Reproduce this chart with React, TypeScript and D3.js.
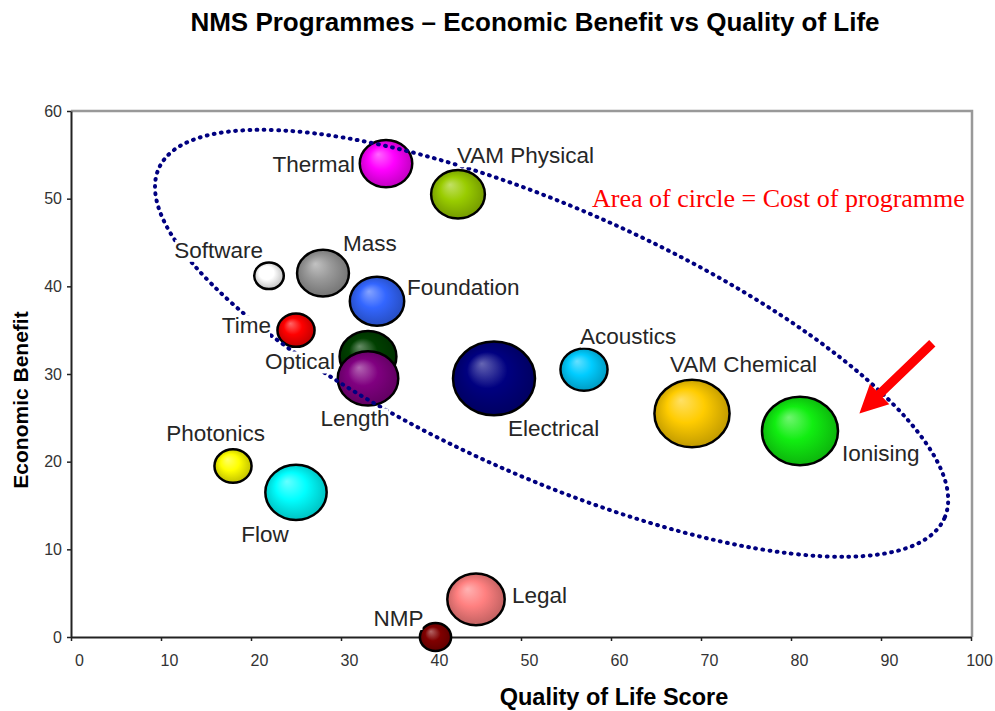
import React, { useEffect, useRef } from "react";
import * as d3 from "d3";

// programme data
const programmes = ["Thermal", "VAM Physical", "Software", "Mass", "Foundation", "Time", "Optical", "Length", "Electrical", "Acoustics", "VAM Chemical", "Ionising", "Photonics", "Flow", "Legal", "NMP"];
const qualityOfLife = [35, 43, 22, 28, 34, 25, 33, 33, 47, 57, 69, 81, 18, 25, 45, 40.5];
const economicBenefit = [54, 50.5, 41.2, 41.5, 38.3, 35, 32, 29.5, 29.5, 30.5, 25.5, 23.5, 19.5, 16.5, 4.3, 0];
const programmeCost = [41, 43, 13, 40, 44, 20.5, 48, 54.5, 100, 33, 84, 86, 20.5, 56, 49, 14.5];
const colours = ["#ff00ff", "#99cc00", "#ffffff", "#999999", "#3366ff", "#ff0000", "#004000", "#800080", "#000080", "#00ccff", "#ffcc00", "#11ee11", "#ffff00", "#00ffff", "#ff8080", "#800000"];

const xTicks = [0, 10, 20, 30, 40, 50, 60, 70, 80, 90, 100];
const yTicks = [0, 10, 20, 30, 40, 50, 60];

// annotations (data units)
const ringCentre = [53.4, 33.5];
const arrowTail = [95.7, 33.5];
const arrowTip = [87.6, 25.5];
const notePos = [57.9, 49];

// label placement relative to bubble centre, px
const labelLayout: Record<string, [number, number, string]> = {
  Thermal: [-31, 8, "end"],
  "VAM Physical": [-1, -31, "start"],
  Software: [-6, -18, "end"],
  Mass: [20, -22, "start"],
  Foundation: [30, -6, "start"],
  Time: [-25, 3, "end"],
  Optical: [-33, 13, "end"],
  Length: [-13, 48, "middle"],
  Electrical: [14, 58, "start"],
  Acoustics: [-4, -26, "start"],
  "VAM Chemical": [-22, -41, "start"],
  Ionising: [42, 30, "start"],
  Photonics: [32, -25, "end"],
  Flow: [-31, 50, "middle"],
  Legal: [36, 4, "start"],
  NMP: [-12, -11, "end"],
};

export default function App() {
  const ref = useRef<SVGSVGElement>(null);

  useEffect(() => {
    document.body.style.margin = "0";
    const svg = d3.select(ref.current);
    svg.selectAll("*").remove();

    const left = 71, right = 971, top = 111, bottom = 637;
    const x = d3.scaleLinear().domain([0, 100]).range([left, right]);
    const y = d3.scaleLinear().domain([0, 60]).range([bottom, top]);
    const r = d3.scaleSqrt().domain([0, 100]).range([0, 41]);
    const font = "'Liberation Sans', Arial, sans-serif";

    // title
    svg.append("text")
      .attr("x", 535).attr("y", 31)
      .attr("text-anchor", "middle")
      .attr("font-family", font).attr("font-weight", "bold").attr("font-size", 26)
      .text("NMS Programmes \u2013 Economic Benefit vs Quality of Life");

    // frame
    svg.append("path")
      .attr("d", `M${left},${top}H${right + 1}V${bottom}`)
      .attr("fill", "none").attr("stroke", "#999").attr("stroke-width", 2.5);

    // axes
    const xAxis = svg.append("g")
      .attr("transform", `translate(0,${bottom})`)
      .call(d3.axisBottom(x).tickValues(xTicks).tickSize(4).tickSizeOuter(0));
    xAxis.select(".domain").attr("stroke", "#222").attr("stroke-width", 2);
    xAxis.selectAll(".tick line").attr("stroke", "#222").attr("stroke-width", 1.5);
    xAxis.selectAll(".tick text")
      .attr("y", 18).attr("dx", 8)
      .attr("font-family", font).attr("font-size", 16).attr("fill", "#333");

    const yAxis = svg.append("g")
      .attr("transform", `translate(${left},0)`)
      .call(d3.axisLeft(y).tickValues(yTicks).tickSize(4).tickSizeOuter(0).tickPadding(5));
    yAxis.select(".domain").attr("stroke", "#222").attr("stroke-width", 2);
    yAxis.selectAll(".tick line").attr("stroke", "#222").attr("stroke-width", 1.5);
    yAxis.selectAll(".tick text")
      .attr("font-family", font).attr("font-size", 16).attr("fill", "#333");

    // axis titles
    svg.append("text")
      .attr("transform", "translate(28,400) rotate(-90)")
      .attr("text-anchor", "middle")
      .attr("font-family", font).attr("font-weight", "bold").attr("font-size", 21)
      .text("Economic Benefit");
    svg.append("text")
      .attr("x", 614).attr("y", 705)
      .attr("text-anchor", "middle")
      .attr("font-family", font).attr("font-weight", "bold").attr("font-size", 23.5)
      .text("Quality of Life Score");

    // 3D style gradients
    const defs = svg.append("defs");
    colours.forEach((c, i) => {
      const g = defs.append("radialGradient")
        .attr("id", `bub${i}`)
        .attr("cx", "50%").attr("cy", "50%").attr("r", "55%")
        .attr("fx", "35%").attr("fy", "30%");
      g.append("stop").attr("offset", "0%").attr("stop-color", d3.interpolateRgb(c, "#fff")(0.4));
      g.append("stop").attr("offset", "45%").attr("stop-color", c);
      g.append("stop").attr("offset", "100%").attr("stop-color", d3.color(c)!.darker(0.9).formatHex());
    });

    const data = programmes.map((name, i) => ({
      name,
      cx: x(qualityOfLife[i]),
      cy: y(economicBenefit[i]),
      rad: r(programmeCost[i]),
      i,
    }));

    // bubbles
    svg.append("g")
      .selectAll("ellipse")
      .data(data)
      .join("ellipse")
      .attr("cx", (d) => d.cx)
      .attr("cy", (d) => d.cy)
      .attr("rx", (d) => d.rad)
      .attr("ry", (d) => d.rad * 0.9)
      .attr("fill", (d) => `url(#bub${d.i})`)
      .attr("stroke", "#000")
      .attr("stroke-width", 2.5);

    // dotted ring around the main group
    const rcx = x(ringCentre[0]), rcy = y(ringCentre[1]);
    svg.append("ellipse")
      .attr("cx", rcx).attr("cy", rcy)
      .attr("rx", 430).attr("ry", 134)
      .attr("transform", `rotate(24,${rcx},${rcy})`)
      .attr("fill", "none")
      .attr("stroke", "#000080")
      .attr("stroke-width", 4)
      .attr("stroke-linecap", "round")
      .attr("stroke-dasharray", "0.8 6.4");

    // red arrow
    const tx = x(arrowTail[0]), ty = y(arrowTail[1]);
    const hx = x(arrowTip[0]), hy = y(arrowTip[1]);
    const len = Math.hypot(hx - tx, hy - ty);
    const ux = (hx - tx) / len, uy = (hy - ty) / len;
    const px = -uy, py = ux;
    const shaft = 4.5, headW = 14, headL = 28;
    const bx = hx - ux * headL, by = hy - uy * headL;
    const pts: [number, number][] = [
      [tx + px * shaft, ty + py * shaft],
      [bx + px * shaft, by + py * shaft],
      [bx + px * headW, by + py * headW],
      [hx, hy],
      [bx - px * headW, by - py * headW],
      [bx - px * shaft, by - py * shaft],
      [tx - px * shaft, ty - py * shaft],
    ];
    svg.append("path")
      .attr("d", d3.line()(pts) + "Z")
      .attr("fill", "#ff0000");

    // note
    svg.append("text")
      .attr("x", x(notePos[0])).attr("y", y(notePos[1]))
      .attr("font-family", "'Liberation Serif', 'Times New Roman', serif")
      .attr("font-size", 26).attr("fill", "#ff0000")
      .text("Area of circle = Cost of programme");

    // labels with white backing
    const labels = svg.append("g");
    data.forEach((d) => {
      const [dx, dy, anchor] = labelLayout[d.name];
      const lg = labels.append("g");
      const bg = lg.append("rect").attr("fill", "#fff");
      const t = lg.append("text")
        .attr("x", d.cx + dx).attr("y", d.cy + dy)
        .attr("text-anchor", anchor)
        .attr("font-family", font).attr("font-size", 22.5).attr("fill", "#262626")
        .text(d.name);
      const bb = (t.node() as SVGTextElement).getBBox();
      bg.attr("x", bb.x + 1).attr("y", bb.y + 2)
        .attr("width", Math.max(0, bb.width - 2)).attr("height", bb.height - 3);
    });
  }, []);

  return <svg ref={ref} width={995} height={711} style={{ display: "block", background: "#fff" }} />;
}
